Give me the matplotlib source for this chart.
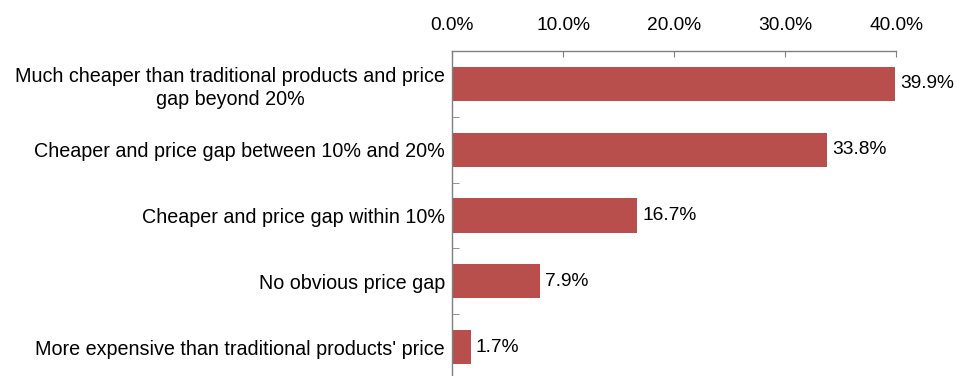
import matplotlib.pyplot as plt
from matplotlib.ticker import FuncFormatter

plt.rcParams['font.family'] = ['Liberation Sans', 'DejaVu Sans']

categories = [
    "Much cheaper than traditional products and price\ngap beyond 20%",
    "Cheaper and price gap between 10% and 20%",
    "Cheaper and price gap within 10%",
    "No obvious price gap",
    "More expensive than traditional products' price",
]
values = [39.9, 33.8, 16.7, 7.9, 1.7]
xticks = [0, 10, 20, 30, 40]

fig = plt.figure(figsize=(9.62, 3.76), dpi=100)
ax = fig.add_axes([452 / 962, -4 / 376, 444 / 962, 329 / 376])

ypos = range(len(values))
ax.barh(ypos, values, height=0.52, color='#B84F4C', zorder=2)

for y, v in zip(ypos, values):
    ax.text(v + 0.45, y, f"{v:.1f}%", va='center', ha='left', fontsize=13.8)

ax.set_xlim(0, 40)
ax.set_ylim(4.5, -0.5)
ax.xaxis.tick_top()
ax.set_xticks(xticks)
ax.xaxis.set_major_formatter(FuncFormatter(lambda v, p: f"{v:.1f}%"))
ax.tick_params(axis='x', direction='in', length=4, color='#808080', labelsize=13.8, pad=12.5)

# category labels without ticks, boundary ticks as minor
ax.set_yticks(list(ypos))
ax.set_yticklabels(categories, fontsize=14.2, ha='right', multialignment='center',
                   linespacing=1.3)
ax.tick_params(axis='y', which='major', length=0, pad=5)
ax.set_yticks([y + 0.5 for y in ypos], minor=True)
ax.tick_params(axis='y', which='minor', direction='in', length=5, color='#808080')

for s in ['right', 'bottom']:
    ax.spines[s].set_visible(False)
for s in ['top', 'left']:
    ax.spines[s].set_color('#808080')
    ax.spines[s].set_linewidth(1.0)

fig.savefig('out.png', dpi=100)
